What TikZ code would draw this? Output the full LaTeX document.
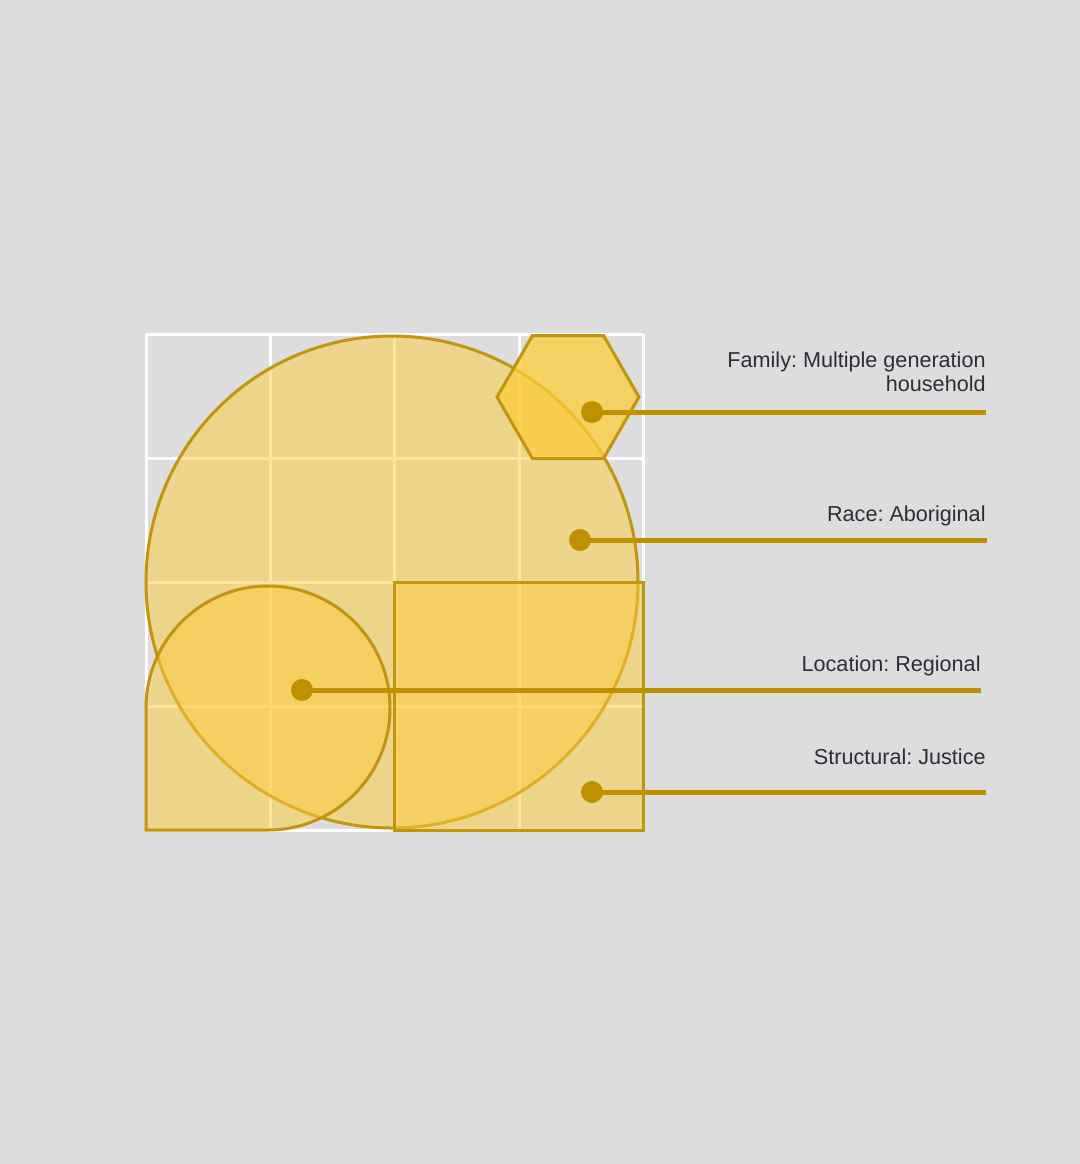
\documentclass[tikz,border=0pt]{standalone}
\usepackage{fontspec}
\setmainfont{Liberation Sans}
\usepackage{tikz}
\usetikzlibrary{positioning,calc}
\frenchspacing

\definecolor{bggray}{HTML}{DDDDDD}
\definecolor{gold}{HTML}{BF9000}
\definecolor{goldline}{HTML}{C0950F}
\definecolor{sun}{HTML}{FECC3A}
\definecolor{inktext}{HTML}{2B2D3A}

\tikzset{
    shapepart/.style={draw=goldline, line width=1.5pt, fill=sun, fill opacity=0.5, draw opacity=1},
    dot/.style={circle, fill=gold, inner sep=0pt, minimum size=11pt},
    leader/.style={draw=gold, line width=2.5pt},
    label/.style={text=inktext, font=\fontsize{10.8}{12}\selectfont, inner sep=0pt, align=right}
}

\begin{document}
\begin{tikzpicture}[x=0.5pt, y=-0.5pt]
    \useasboundingbox[fill=bggray] (0,0) rectangle (1080,1164);

    % Grid
    \foreach \gx in {146,270,394,519,643}
        \draw[white, line width=1.5pt] (\gx,334) -- (\gx,830);
    \foreach \gy in {334,458,582,706,830}
        \draw[white, line width=1.5pt] (146,\gy) -- (643,\gy);

    % Shapes
    \draw[shapepart] (392,582) circle (246);
    \draw[shapepart] (146,830) -- (146,708) arc[start angle=180, end angle=450, radius=122] -- cycle;
    \draw[shapepart] (394,582) rectangle (643,830);
    \draw[shapepart, fill opacity=0.75] (639,397) -- (603.5,458.5) -- (532.5,458.5) -- (497,397) -- (532.5,335.5) -- (603.5,335.5) -- cycle;

    % Nodes
    \node[dot] (family) at (592,412) {};
    \node[dot] (race) at (580,540) {};
    \node[dot] (location) at (302,690) {};
    \node[dot] (structural) at (592,792) {};

    \coordinate (familyend) at (986,412);
    \coordinate (raceend) at (987,540);
    \coordinate (locationend) at (981,690);
    \coordinate (structuralend) at (986,792);

    % Labels
    \node[label, anchor=base east] (familytext) at (986,391) {Family: Multiple generation\\household};
    \node[label, anchor=base east] (racetext) at (986,521) {Race: Aboriginal};
    \node[label, anchor=base east] (locationtext) at (981,671) {Location: Regional};
    \node[label, anchor=base east] (structuraltext) at (986,764) {Structural: Justice};

    % Connections
    \draw[leader] (family.center) -- (familyend);
    \draw[leader] (race.center) -- (raceend);
    \draw[leader] (location.center) -- (locationend);
    \draw[leader] (structural.center) -- (structuralend);
\end{tikzpicture}
\end{document}
